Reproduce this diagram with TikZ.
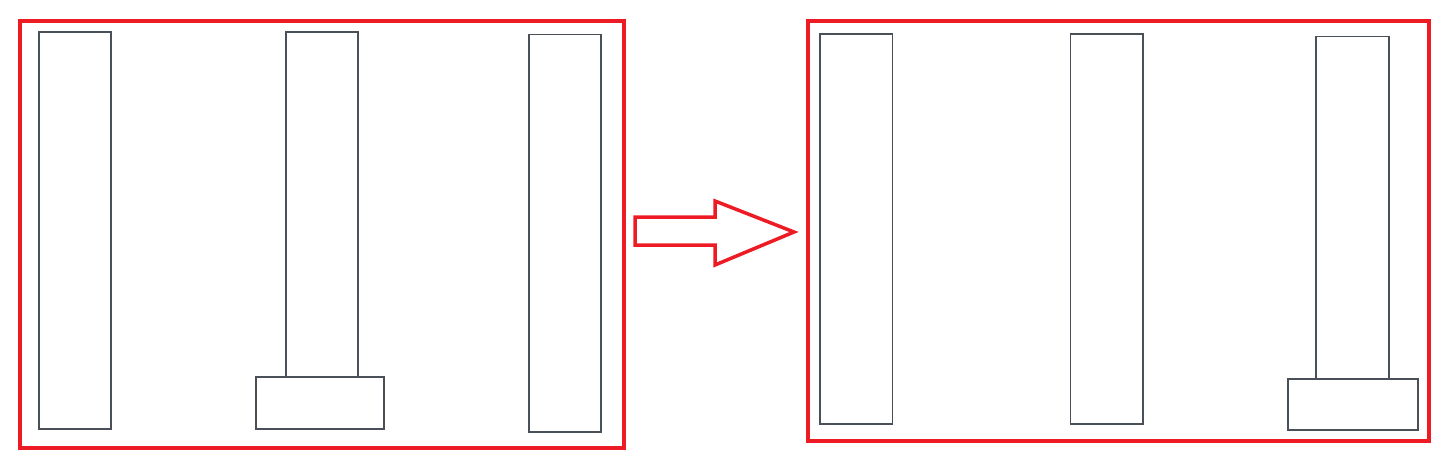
\documentclass[tikz,border=0pt]{standalone}
\usetikzlibrary{fit}
\definecolor{redline}{HTML}{ED1C24}
\definecolor{grayline}{HTML}{4A5058}
\begin{document}
\begin{tikzpicture}[x=1pt,y=-1pt,
  col/.style={draw=grayline, line width=1.8pt, fill=white, inner sep=0pt},
  frame/.style={draw=redline, line width=4pt, inner sep=0pt},
  bigarrow/.style={draw=redline, line width=3.5pt, line join=miter, fill=white}]
\useasboundingbox (0,0) rectangle (1451,469);
% left frame
\node[frame, fit={(19.5,20.5)(624,448)}] (LF) {};
\node[col, fit={(39,32)(111,429)}] (L1) {};
\node[col, fit={(286,32)(358,429)}] (L2) {};
\node[col, fit={(529,34.5)(601,432)}] (L3) {};
\node[col, fit={(256,377)(384,429)}] (Lfoot) {};
% arrow
\draw[bigarrow] (635,217) -- (715,217) -- (715,201) -- (794,232) -- (715,265) -- (715,245) -- (635,245) -- cycle;
% right frame
\node[frame, fit={(808,20.5)(1429,441)}] (RF) {};
\node[col, fit={(820,34)(892.5,424)}] (R1) {};
\node[col, fit={(1070.5,34)(1143,424)}] (R2) {};
\node[col, fit={(1316,36.5)(1389,420)}] (R3) {};
\node[col, fit={(1288,379)(1418,430)}] (Rfoot) {};
\end{tikzpicture}
\end{document}
